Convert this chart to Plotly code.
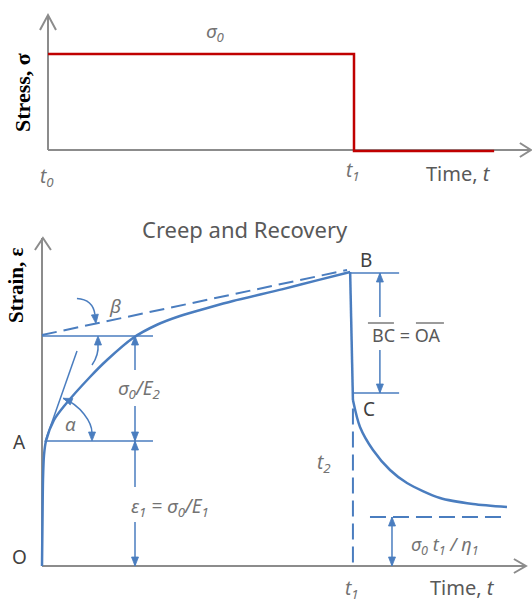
import math
import plotly.graph_objects as go

# ---------------- data ----------------
# Top panel: stress history. time in units of t1, stress in units of sigma0
stress_t = [0.0, 1.0, 1.0, 1.458]
stress_s = [1.0, 1.0, -0.01, -0.01]

# Bottom panel: strain response. time in units of t1, strain in units of eps1 = sigma0/E1
creep_t = [0.0, 0.0016, 0.0032, 0.0065, 0.0129, 0.0387, 0.0742, 0.1548, 0.2097,
           0.2935, 0.371, 0.445, 0.542, 0.616, 0.777, 0.887, 0.994]
creep_e = [0.0, 0.368, 0.688, 0.888, 1.0, 1.168, 1.288, 1.512, 1.648,
           1.824, 1.93, 2.0, 2.07, 2.12, 2.215, 2.285, 2.352]
drop_t = [0.994, 1.003]
drop_e = [2.352, 1.328]
recov_t = [1.003, 1.0258, 1.0677, 1.1226, 1.1774, 1.2839, 1.3903, 1.5]
recov_e = [1.328, 1.112, 0.928, 0.768, 0.664, 0.544, 0.496, 0.472]
asym_t = [0.0, 0.984]          # dashed secondary-creep asymptote (beta)
asym_e = [1.848, 2.368]
tangent_t = [0.0097, 0.1129]   # initial tangent (alpha)
tangent_e = [0.992, 1.72]
eps_A = 1.0        # sigma0/E1
eps_E2 = 1.84      # eps1 + sigma0/E2
eps_B = 2.344
eps_C = 1.384
eps_perm = 0.392   # sigma0 t1 / eta1
t1 = 1.0

GREY_AX = "#8c8c8c"
BLUE = "#4a7dbf"
RED = "#c00000"
TXT = "#595959"
TXT_D = "#404040"
TXT_M = "#737373"
FONT = "Noto Sans"

fig = go.Figure()

def line(xs, ys, ax, color=BLUE, width=1.5, dash=None, shape="linear"):
    fig.add_trace(go.Scatter(x=xs, y=ys, mode="lines", xaxis="x" if ax == 1 else "x2",
                             yaxis="y" if ax == 1 else "y2", hoverinfo="skip",
                             line=dict(color=color, width=width, dash=dash, shape=shape,
                                       smoothing=0.8)))

shapes = []

def head(ax, x, y, dx, dy, L=9, w=3.5, color=BLUE, ox=0.0, oy=0.0):
    n = math.hypot(dx, dy)
    dx, dy = dx / n, dy / n
    bx, by = ox - L * dx, oy - L * dy
    px_, py_ = -dy, dx
    path = (f"M {ox:.2f},{oy:.2f} L {bx + w * px_:.2f},{by + w * py_:.2f} "
            f"L {bx - w * px_:.2f},{by - w * py_:.2f} Z")
    shapes.append(dict(type="path", xref="x" if ax == 1 else "x2", yref="y" if ax == 1 else "y2",
                       xsizemode="pixel", ysizemode="pixel", xanchor=x, yanchor=y,
                       path=path, fillcolor=color, line=dict(color=color, width=0.8), layer="above"))

def pxpath(ax, x, y, path, color=BLUE, width=1.5):
    shapes.append(dict(type="path", xref="x" if ax == 1 else "x2", yref="y" if ax == 1 else "y2",
                       xsizemode="pixel", ysizemode="pixel", xanchor=x, yanchor=y,
                       path=path, line=dict(color=color, width=width), layer="above"))

# ---------- top panel ----------
line([0, 0], [0, 1.406], 1, GREY_AX, 2)
line([0, 1.578], [0, 0], 1, GREY_AX, 2)
pxpath(1, 0, 1.406, "M -8,-15 L 0,0 L 8,-15", GREY_AX, 2)
pxpath(1, 1.578, 0, "M -11,7 L 0,0 L -11,-7", GREY_AX, 2)
line(stress_t, stress_s, 1, RED, 2.5)

# ---------- bottom panel ----------
line([0, 0], [0, 2.624], 2, GREY_AX, 2)
line([0, 1.561], [0, 0], 2, GREY_AX, 2)
pxpath(2, 0.003, 2.624, "M -8,-12 L 0,0 L 8,-12", GREY_AX, 2)
pxpath(2, 1.561, 0, "M -12,7 L 0,0 L -12,-7", GREY_AX, 2)

line(asym_t, asym_e, 2, BLUE, 2, "15px,7px")
line([0, 0.358], [eps_E2, eps_E2], 2, BLUE, 1.5)
line([0.0129, 0.358], [eps_A, eps_A], 2, BLUE, 1.5)
line(tangent_t, tangent_e, 2, BLUE, 1.5)
line(creep_t, creep_e, 2, BLUE, 2.5, shape="spline")
line(drop_t, drop_e, 2, BLUE, 2.5)
line(recov_t, recov_e, 2, BLUE, 2.5, shape="spline")
line([t1 + 0.003, t1 + 0.003], [1.26, 0], 2, BLUE, 2, "16px,7px")
line([1.058, 1.5], [eps_perm, eps_perm], 2, BLUE, 2, "16px,7px")
line([0.994, 1.152], [eps_B, eps_B], 2, BLUE, 1.5)
line([1.003, 1.152], [eps_C, eps_C], 2, BLUE, 1.5)

# dimension arrows (broken around labels)
xa = 0.3
line([xa, xa], [1.568, eps_E2], 2); head(2, xa, eps_E2, 0, 1)
line([xa, xa], [1.28, eps_A], 2); head(2, xa, eps_A, 0, -1)
line([xa, xa], [0.632, eps_A], 2); head(2, xa, eps_A, 0, 1)
line([xa, xa], [0.352, 0], 2); head(2, xa, 0, 0, -1)
xb = 1.09
line([xb, xb], [1.992, eps_B], 2); head(2, xb, eps_B, 0, 1)
line([xb, xb], [1.728, eps_C], 2); head(2, xb, eps_C, 0, -1)
xc = 1.129
line([xc, xc], [0, eps_perm], 2); head(2, xc, eps_perm, 0, 1); head(2, xc, 0, 0, -1)

# angle arcs (pixel-sized, anchored at data points)
pxpath(2, 0.0129, eps_A, "M 17.2,42.7 C 34.6,35.6 46,18.8 46,8")
head(2, 0.0129, eps_A, 0, -1, ox=46, oy=0)
head(2, 0.0129, eps_A, -0.927, 0.375, ox=17.2, oy=42.7)
pxpath(2, 0.1806, eps_E2, "M -6,-29 Q 1,-19 0,-8")
head(2, 0.1806, eps_E2, 0, 1)
pxpath(2, 0.174, 1.94, "M -19,25 Q -3,24 -1,9")
head(2, 0.174, 1.94, 0.12, -1)

# overlines for BC and OA
shapes.append(dict(type="line", xref="x2", yref="y2", xsizemode="pixel", ysizemode="pixel",
                   xanchor=1.174, yanchor=1.848, x0=-38, x1=-12, y0=12, y1=12,
                   line=dict(color=TXT, width=1.2)))
shapes.append(dict(type="line", xref="x2", yref="y2", xsizemode="pixel", ysizemode="pixel",
                   xanchor=1.174, yanchor=1.848, x0=10, x1=38, y0=12, y1=12,
                   line=dict(color=TXT, width=1.2)))

# ---------- text ----------
ann = []
def txt(ax, x, y, s, color=TXT, size=18, italic=False, family=FONT):
    ann.append(dict(xref="x" if ax == 1 else "x2", yref="y" if ax == 1 else "y2", x=x, y=y,
                    text=f"<i>{s}</i>" if italic else s, showarrow=False,
                    borderpad=0, borderwidth=0, xanchor="center", yanchor="middle",
                    font=dict(family=family, size=size, color=color)))

txt(1, 0.546, 1.229, "σ<sub>0</sub>", TXT_M, 19, True)
txt(1, -0.003, -0.281, "t<sub>0</sub>", TXT_M, 19, True)
txt(1, 0.997, -0.219, "t<sub>1</sub>", TXT_M, 19, True)
txt(1, 1.343, -0.24, "Time, <i>t</i>", TXT, 20)

txt(2, -0.071, 0.072, "O", TXT_D, 19)
txt(2, -0.071, 0.992, "A", TXT_D, 19)
txt(2, 1.045, 2.448, "B", TXT_D, 19)
txt(2, 1.055, 1.256, "C", TXT_D, 19)
txt(2, 0.910, 0.824, "t<sub>2</sub>", TXT_M, 19, True)
txt(2, 1.0, -0.18, "t<sub>1</sub>", TXT_M, 19, True)
txt(2, 1.358, -0.175, "Time, <i>t</i>", TXT, 20)
txt(2, 0.2355, 2.08, "β", TXT_M, 19, True)
txt(2, 0.093, 1.136, "α", TXT_M, 19, True)
txt(2, 0.313, 1.416, "σ<sub>0</sub>/E<sub>2</sub>", TXT_M, 19, True)
txt(2, 0.413, 0.472, "ε<sub>1</sub> = σ<sub>0</sub>/E<sub>1</sub>", TXT_M, 19, True)
txt(2, 1.174, 1.848, "BC = OA", TXT, 18)
txt(2, 1.30, 0.168, "σ<sub>0</sub> t<sub>1</sub> / η<sub>1</sub>", TXT_M, 18, True)

ann.append(dict(xref="paper", yref="paper", x=245 / 532, y=1 - 229 / 603, showarrow=False,
                xanchor="center", yanchor="middle",
                text="Creep and Recovery", font=dict(family=FONT, size=22, color=TXT)))
ann.append(dict(xref="paper", yref="paper", x=23 / 532, y=1 - 93 / 603, showarrow=False,
                xanchor="center", yanchor="middle",
                textangle=-90, text="<b>Stress, σ</b>",
                font=dict(family="Liberation Serif", size=22, color="#000000")))
ann.append(dict(xref="paper", yref="paper", x=16 / 532, y=1 - 285 / 603, showarrow=False,
                xanchor="center", yanchor="middle",
                textangle=-90, text="<b>Strain, ε</b>",
                font=dict(family="Liberation Serif", size=21, color="#000000")))

split = 1 - 200 / 603
fig.update_layout(
    width=532, height=603, margin=dict(l=0, r=0, t=0, b=0),
    paper_bgcolor="white", plot_bgcolor="white", showlegend=False, hovermode=False,
    xaxis=dict(domain=[0, 1], range=[-48 / 306, 484 / 306], visible=False, anchor="y", fixedrange=True),
    yaxis=dict(domain=[split, 1], range=[-50 / 96, 150 / 96], visible=False, anchor="x", fixedrange=True),
    xaxis2=dict(domain=[0, 1], range=[-42 / 310, 490 / 310], visible=False, anchor="y2", fixedrange=True),
    yaxis2=dict(domain=[0, split], range=[-37 / 125, 366 / 125], visible=False, anchor="x2", fixedrange=True),
    shapes=shapes, annotations=ann,
)

fig.write_html("out.html")
